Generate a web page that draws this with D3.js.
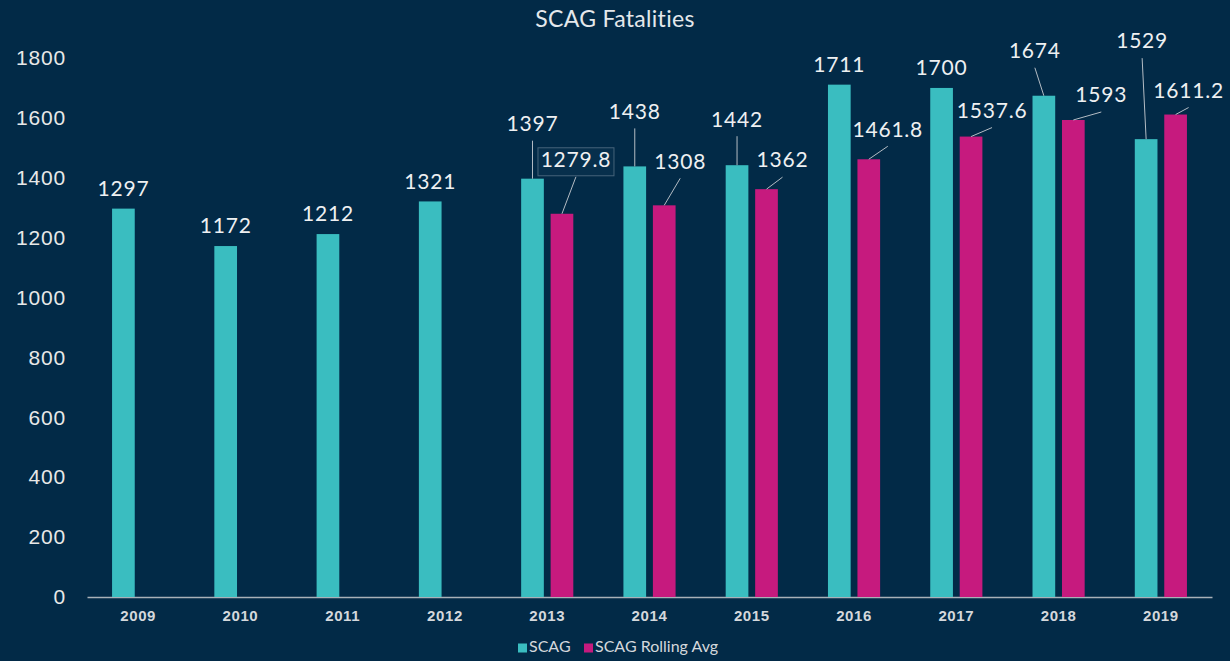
<!DOCTYPE html>
<html>
<head>
<meta charset="utf-8">
<script src="https://cdn.jsdelivr.net/npm/d3@7"></script>
<style>
  html, body { margin: 0; padding: 0; background: #022a47; }
  svg { display: block; font-family: Lato, "Open Sans", sans-serif; }
</style>
</head>
<body>
<div id="chart"></div>
<script>
/** Data */
var years = ["2009", "2010", "2011", "2012", "2013", "2014", "2015", "2016", "2017", "2018", "2019"];
var scagValues = [1297, 1172, 1212, 1321, 1397, 1438, 1442, 1711, 1700, 1674, 1529];
var rollingValues = [null, null, null, null, 1279.8, 1308, 1362, 1461.8, 1537.6, 1593, 1611.2];
var seriesNames = ["SCAG", "SCAG Rolling Avg"];
var yTicks = [0, 200, 400, 600, 800, 1000, 1200, 1400, 1600, 1800];

/** Label nudges (pixels) so labels sit like in the original, [dx, dy] */
var scagNudge = [[0,0],[0,0],[0,0],[0,0],[0,-35],[0,-35],[0,-26],[0,0],[0,0],[-9,-25],[-4,-78]];
var rollingNudge = [[0,0],[0,0],[0,0],[0,0],[14,-34],[16,-24],[16,-9],[19,-10],[21,-6],[28,-5],[13,-4]];

var width = 1230, height = 661;
var margin = {top: 58, right: 18, bottom: 64, left: 87};

var colors = {SCAG: "#3abdc0", "SCAG Rolling Avg": "#c61a7e"};

var svg = d3.select("#chart")
  .append("svg")
    .attr("width", width)
    .attr("height", height);

svg.append("rect")
  .attr("width", width)
  .attr("height", height)
  .attr("fill", "#022a47");

/** Scales */
var x0 = d3.scaleBand()
  .domain(years)
  .range([margin.left, width - margin.right])
  .paddingInner(0.49)
  .paddingOuter(0.245);

var x1 = d3.scaleBand()
  .domain(seriesNames)
  .range([0, x0.bandwidth()])
  .paddingInner(0.23);

var y = d3.scaleLinear()
  .domain([0, 1800])
  .range([height - margin.bottom, margin.top]);

/** Title */
svg.append("text")
  .attr("x", 615)
  .attr("y", 21)
  .attr("text-anchor", "middle")
  .attr("dominant-baseline", "middle")
  .attr("fill", "#e4e8ec")
  .style("font-size", "23px")
  .style("letter-spacing", "0.3px")
  .text("SCAG Fatalities");

/** Y axis (labels only) */
var yAxis = svg.append("g")
  .attr("transform", "translate(66,0)")
  .call(d3.axisLeft(y).tickValues(yTicks).tickFormat(d3.format("d")).tickSize(0).tickPadding(0));
yAxis.select(".domain").remove();
yAxis.selectAll("text")
  .attr("fill", "#e8e8e8")
  .style("font-size", "21px")
  .style("letter-spacing", "0.8px");

/** X axis */
var xAxis = svg.append("g")
  .attr("transform", "translate(0," + y(0) + ")")
  .call(d3.axisBottom(x0).tickSize(0).tickPadding(13).tickSizeOuter(0));
xAxis.select(".domain")
  .attr("stroke", "#a9b1b8")
  .attr("stroke-width", 1.5);
xAxis.selectAll("text")
  .attr("fill", "#d4d8dc")
  .style("font-size", "15px")
  .style("font-weight", "700")
  .style("letter-spacing", "0.6px");

/** Build rows for each bar */
var rows = [];
years.forEach(function(yr, i) {
  rows.push({year: yr, series: "SCAG", value: scagValues[i], nudge: scagNudge[i]});
  if (rollingValues[i] !== null) {
    rows.push({year: yr, series: "SCAG Rolling Avg", value: rollingValues[i], nudge: rollingNudge[i]});
  }
});

function barCenter(d) { return x0(d.year) + x1(d.series) + x1.bandwidth() / 2; }

/** Bars */
svg.append("g")
  .selectAll("rect")
  .data(rows)
  .enter()
  .append("rect")
    .attr("x", function(d) { return x0(d.year) + x1(d.series); })
    .attr("y", function(d) { return y(d.value); })
    .attr("width", x1.bandwidth())
    .attr("height", function(d) { return y(0) - y(d.value); })
    .attr("fill", function(d) { return colors[d.series]; });

/** Leader lines for moved labels */
var moved = rows.filter(function(d) { return Math.abs(d.nudge[0]) + Math.abs(d.nudge[1]) > 8; });
svg.append("g")
  .selectAll("line")
  .data(moved)
  .enter()
  .append("line")
    .attr("x1", function(d) { return barCenter(d); })
    .attr("y1", function(d) { return y(d.value); })
    .attr("x2", function(d) { return barCenter(d) + d.nudge[0]; })
    .attr("y2", function(d) { return y(d.value) - 18 + d.nudge[1] + 15; })
    .attr("stroke", "#b4bcc4")
    .attr("stroke-width", 1);

/** Thin box around 1279.8 like in the source picture */
var boxed = rows.filter(function(d) { return d.value === 1279.8; });
svg.append("g")
  .selectAll("rect")
  .data(boxed)
  .enter()
  .append("rect")
    .attr("x", function(d) { return barCenter(d) + d.nudge[0] - 38; })
    .attr("y", function(d) { return y(d.value) - 18 + d.nudge[1] - 14; })
    .attr("width", 76)
    .attr("height", 28)
    .attr("fill", "#072f4c")
    .attr("stroke", "#46637a")
    .attr("stroke-width", 1);

/** Data labels */
svg.append("g")
  .selectAll("text")
  .data(rows)
  .enter()
  .append("text")
    .attr("x", function(d) { return barCenter(d) + d.nudge[0]; })
    .attr("y", function(d) { return y(d.value) - 18 + d.nudge[1]; })
    .attr("text-anchor", "middle")
    .attr("dominant-baseline", "middle")
    .attr("fill", "#eef0f2")
    .style("font-size", "21px")
    .style("letter-spacing", "0.8px")
    .text(function(d) { return d.value; });

/** Legend */
var legendX = [518, 584];
var legend = svg.append("g")
  .selectAll("g")
  .data(seriesNames)
  .enter()
  .append("g")
    .attr("transform", function(d, i) { return "translate(" + legendX[i] + ",648)"; });
legend.append("rect")
  .attr("x", 0)
  .attr("y", -4.5)
  .attr("width", 9)
  .attr("height", 9)
  .attr("fill", function(d) { return colors[d]; });
legend.append("text")
  .attr("x", 11)
  .attr("y", 0)
  .attr("dominant-baseline", "middle")
  .attr("fill", "#d4d8dc")
  .style("font-size", "16px")
  .text(function(d) { return d; });
</script>
</body>
</html>
